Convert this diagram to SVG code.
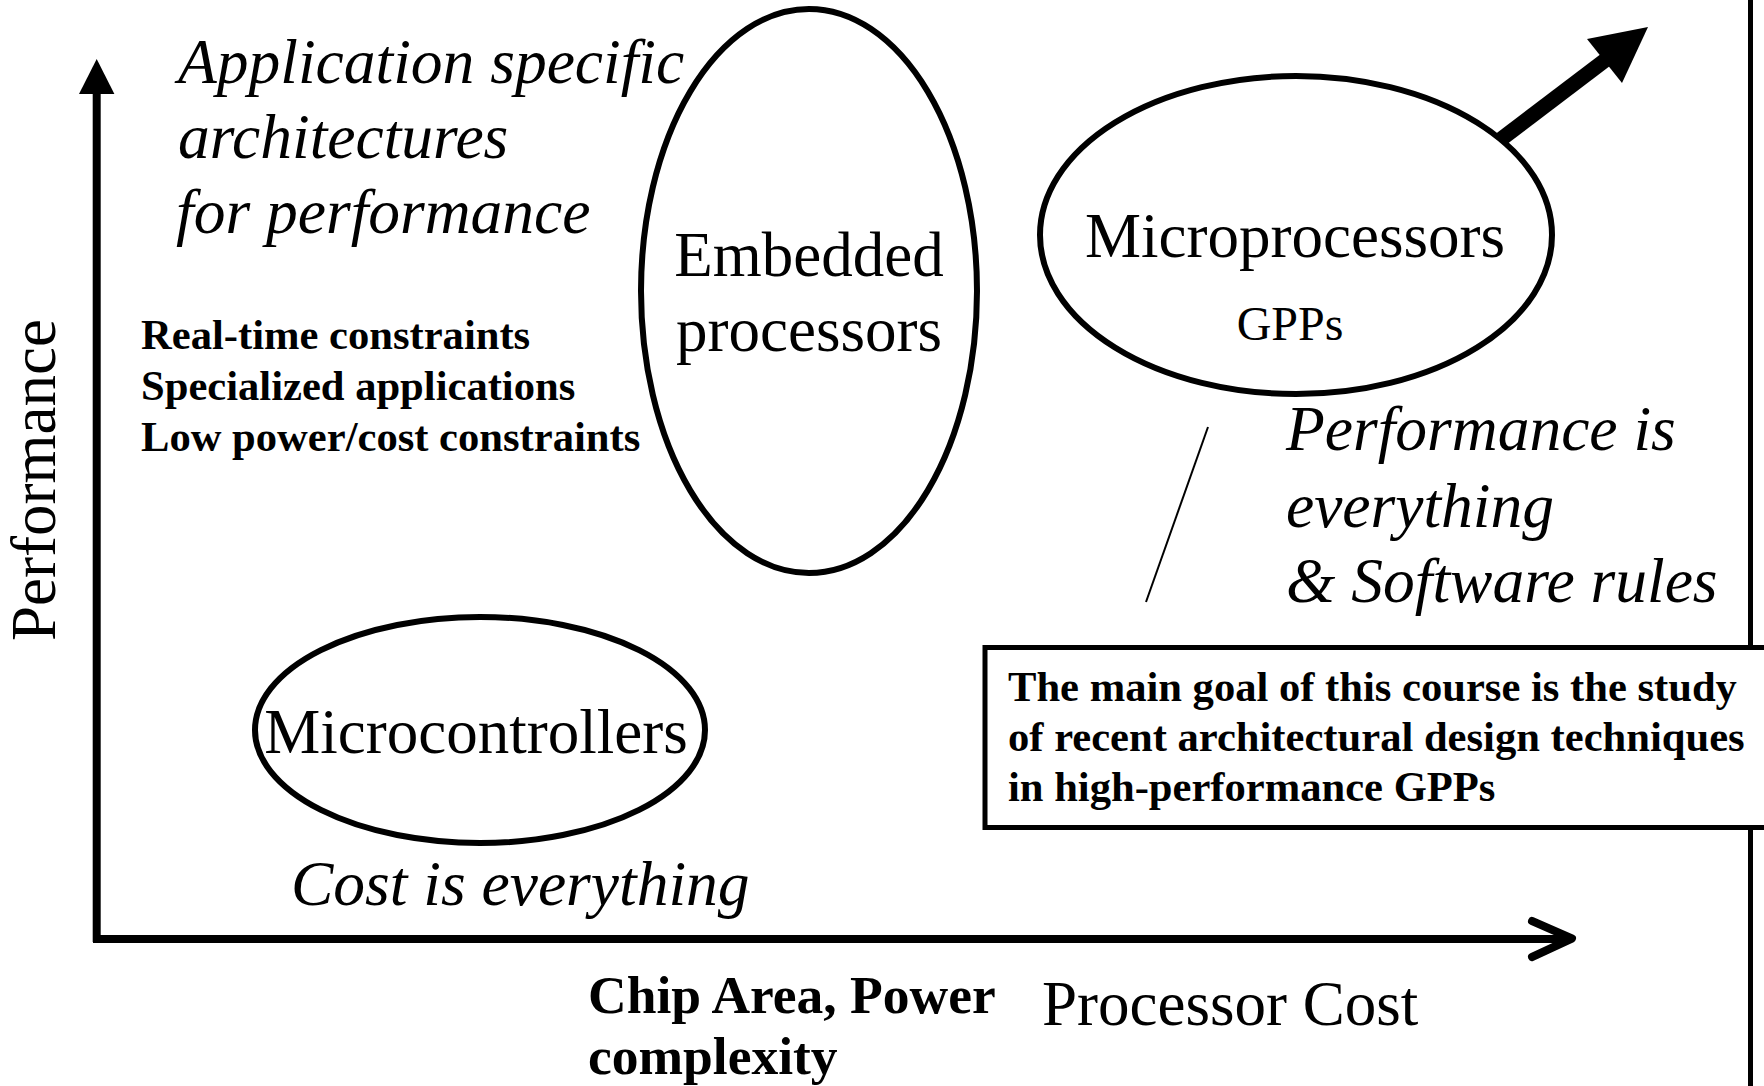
<svg xmlns="http://www.w3.org/2000/svg" width="1764" height="1086" viewBox="0 0 1764 1086">
<style>
.serif{font-family:"Liberation Serif","Times New Roman",serif;fill:#000}
.big{font-size:63px}
.it{font-style:italic;font-size:63.5px}
.bold{font-weight:bold;font-size:42.6px}
.node{fill:none;stroke:#000;stroke-width:6}
</style>
<rect width="1764" height="1086" fill="#fff"/>

<!-- right border line -->
<line x1="1750.5" y1="0" x2="1750.5" y2="1086" stroke="#000" stroke-width="5"/>

<g id="connectors">
  <!-- Y axis -->
  <line x1="96.7" y1="942" x2="96.7" y2="90" stroke="#000" stroke-width="8"/>
  <polygon points="96.7,59 79,94 114.4,94" fill="#000"/>
  <!-- X axis -->
  <line x1="93" y1="939" x2="1568" y2="939" stroke="#000" stroke-width="8"/>
  <polyline points="1532,921 1572,938.5 1532,957" fill="none" stroke="#000" stroke-width="8" stroke-linecap="round" stroke-linejoin="round"/>
  <!-- thick arrow from microprocessors -->
  <line x1="1500" y1="140" x2="1608" y2="58" stroke="#000" stroke-width="15"/>
  <polygon points="1648,27 1587,39 1622,83" fill="#000"/>
  <!-- thin slash -->
  <line x1="1208" y1="427" x2="1146" y2="602" stroke="#000" stroke-width="2"/>
</g>

<g id="axis-labels">
  <text class="serif big" text-anchor="middle" transform="translate(55,480) rotate(-90)">Performance</text>
  <text class="serif" font-weight="bold" font-size="53.5" x="588" y="1013">Chip Area, Power</text>
  <text class="serif" font-weight="bold" font-size="53.5" x="588" y="1074">complexity</text>
  <text class="serif big" x="1042" y="1025">Processor Cost</text>
</g>

<g id="asa-text">
  <text class="serif it" x="178" y="83">Application specific</text>
  <text class="serif it" x="178" y="158">architectures</text>
  <text class="serif it" x="176" y="233">for performance</text>
  <text class="serif bold" x="141" y="349">Real-time constraints</text>
  <text class="serif bold" x="141" y="400">Specialized applications</text>
  <text class="serif bold" x="141" y="451">Low power/cost constraints</text>
</g>

<g id="embedded">
  <ellipse class="node" cx="809" cy="291" rx="168" ry="282"/>
  <text class="serif big" text-anchor="middle" x="809" y="276">Embedded</text>
  <text class="serif big" text-anchor="middle" x="809" y="351">processors</text>
</g>

<g id="microprocessors">
  <ellipse class="node" cx="1296" cy="235" rx="256" ry="159"/>
  <text class="serif big" text-anchor="middle" x="1295" y="257">Microprocessors</text>
  <text class="serif" font-size="48" text-anchor="middle" x="1290" y="340">GPPs</text>
</g>

<g id="microcontrollers">
  <ellipse class="node" cx="480" cy="730" rx="225" ry="113"/>
  <text class="serif big" text-anchor="middle" x="476" y="753">Microcontrollers</text>
  <text class="serif it" x="291" y="905">Cost is everything</text>
</g>

<g id="perf-text">
  <text class="serif it" x="1286" y="450">Performance is</text>
  <text class="serif it" x="1286" y="527">everything</text>
  <text class="serif it" x="1286" y="602">&amp; Software rules</text>
</g>

<g id="goal-box">
  <rect x="985" y="647.5" width="800" height="180" fill="#fff" stroke="#000" stroke-width="5"/>
  <text class="serif bold" x="1008" y="701">The main goal of this course is the study</text>
  <text class="serif bold" x="1008" y="751">of recent architectural design techniques</text>
  <text class="serif bold" x="1008" y="801">in high-performance GPPs</text>
</g>
</svg>
